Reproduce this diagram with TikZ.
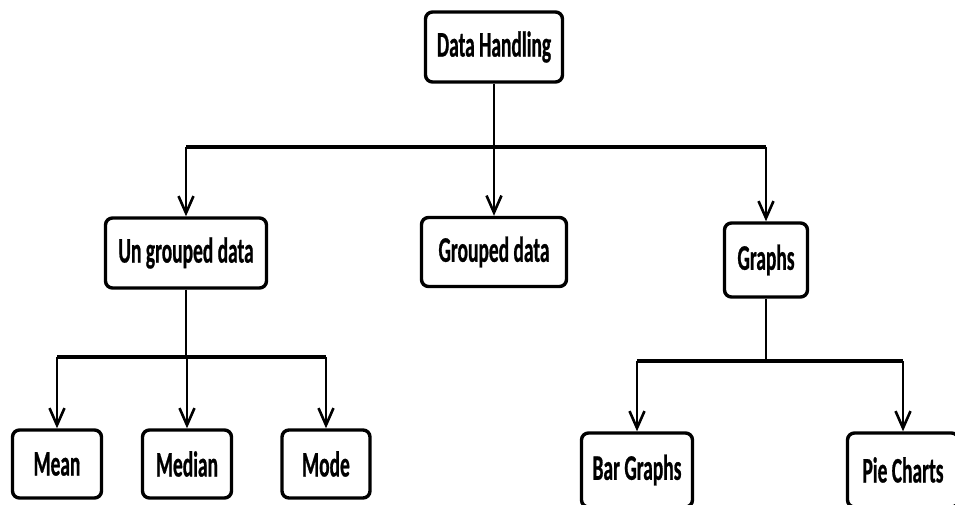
\documentclass[tikz,border=0pt]{standalone}
\usepackage{fontspec}
\setmainfont{Carlito}[FakeStretch=0.54,BoldFeatures={FakeBold=0.6}]
\usetikzlibrary{arrows.meta,positioning}

\tikzset{
  box/.style={draw,line width=3.4pt,rounded corners=7pt,fill=white,inner sep=0pt,
    font=\fontsize{36}{40}\selectfont\bfseries,align=center},
  bus/.style={line width=4.5pt},
  link/.style={line width=2.6pt},
  arrowlink/.style={line width=2.6pt,-{Straight Barb[length=17pt,width=15pt,line width=2.6pt]}}
}

\begin{document}
\begin{tikzpicture}[x=1pt,y=-1pt]
  \useasboundingbox (0,0) rectangle (955,505);
  % top level
  \node[box,minimum width=137pt,minimum height=70pt] (root) at (494,47) {Data Handling};
  \node[box,minimum width=161pt,minimum height=70pt] (ungrp) at (186,253) {Un grouped data};
  \node[box,minimum width=145pt,minimum height=69pt] (grp) at (494,252) {Grouped data};
  \node[box,minimum width=83pt,minimum height=74pt] (graphs) at (766,260) {Graphs};
  % second level
  \node[box,minimum width=89pt,minimum height=68pt] (mean) at (57,464) {Mean};
  \node[box,minimum width=89pt,minimum height=68pt] (median) at (187,464) {Median};
  \node[box,minimum width=88pt,minimum height=68pt] (mode) at (326,464) {Mode};
  \node[box,minimum width=111pt,minimum height=74pt] (bar) at (637,470) {Bar Graphs};
  \node[box,minimum width=111pt,minimum height=74pt] (pie) at (903,470) {Pie Charts};
  % branch points
  \coordinate (split1) at (494,147);
  \coordinate (split2) at (186,357);
  \coordinate (split3) at (766,361);
  % connectors
  \draw[link] (root.south) -- (split1);
  \draw[bus] (ungrp.north |- split1) -- (graphs.north |- split1);
  \draw[arrowlink] (ungrp.north |- split1) -- (ungrp.north);
  \draw[arrowlink] (grp.north |- split1) -- (grp.north);
  \draw[arrowlink] (graphs.north |- split1) -- (graphs.north);
  \draw[link] (ungrp.south) -- (split2);
  \draw[bus] (mean.north |- split2) -- (mode.north |- split2);
  \draw[arrowlink] (mean.north |- split2) -- (mean.north);
  \draw[arrowlink] (median.north |- split2) -- (median.north);
  \draw[arrowlink] (mode.north |- split2) -- (mode.north);
  \draw[link] (graphs.south) -- (split3);
  \draw[bus] (bar.north |- split3) -- (pie.north |- split3);
  \draw[arrowlink] (bar.north |- split3) -- (bar.north);
  \draw[arrowlink] (pie.north |- split3) -- (pie.north);
\end{tikzpicture}
\end{document}
